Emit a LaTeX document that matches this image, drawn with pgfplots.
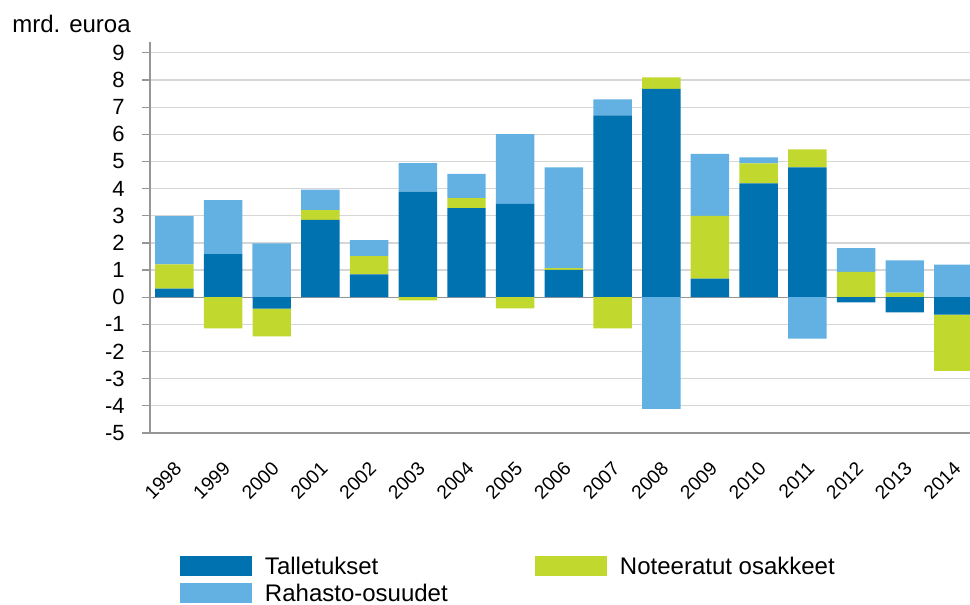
\documentclass[border=0pt]{standalone}
\usepackage{pgfplots}
\pgfplotsset{compat=1.18}
\usepackage{pgfplotstable}
\usepackage{fontspec}
\setmainfont{Liberation Sans}
\definecolor{dblue}{RGB}{0,114,176}
\definecolor{lblue}{RGB}{99,176,227}
\definecolor{lgreen}{RGB}{193,216,47}
\definecolor{axgray}{RGB}{150,150,150}
\definecolor{grgray}{RGB}{214,214,214}

% positive parts (Tp, Np, Rp) and negative parts (Tn, Nn, Rn), bn. euro
\pgfplotstableread{
x Tp Np Rp Tn Nn Rn
0 0.32 0.89 1.78 0 0 0
1 1.59 0 1.99 0 -1.15 0
2 0 0 1.98 -0.42 -1.02 0
3 2.85 0.36 0.75 0 0 0
4 0.84 0.67 0.59 0 0 0
5 3.89 0 1.05 0 -0.12 0
6 3.28 0.37 0.89 0 0 0
7 3.44 0 2.57 0 -0.41 0
8 1.01 0.06 3.71 0 0 0
9 6.70 0 0.59 0 -1.15 0
10 7.67 0.43 0 0 0 -4.11
11 0.69 2.31 2.28 0 0 0
12 4.19 0.74 0.22 0 0 0
13 4.78 0.67 0 0 0 -1.52
14 0 0.93 0.88 -0.19 0 0
15 0 0.17 1.19 -0.56 0 0
16 0 0 1.20 -0.64 -2.07 0
}\data

\pgfplotsset{base/.style={
  scale only axis, width=410pt, height=195.5pt,
  xmin=-0.5, xmax=16.34, ymin=-5, ymax=9.4,
  ybar stacked, bar width=0.79,
  at={(0,0)}, anchor=south west}}

\begin{document}
\begin{tikzpicture}
\useasboundingbox (-75pt,-86pt) rectangle (410pt,216.5pt);
\begin{axis}[base,
  axis x line=bottom, axis y line=left,
  axis line style={draw=axgray, line width=0.6pt, -},
  xtick={0,...,16},
  xticklabels={1998,1999,2000,2001,2002,2003,2004,2005,2006,2007,2008,2009,2010,2011,2012,2013,2014},
  xtick style={draw=none},
  xticklabel style={font=\fontsize{9.6}{11}\selectfont, inner sep=0pt, xshift=2pt, yshift=-12pt, rotate=45, anchor=east},
  ytick={-5,...,9},
  yticklabels={-5,-4,-3,-2,-1,0,1,2,3,4,5,6,7,8,9},
  tick align=outside, major tick length=4pt,
  ytick style={draw=axgray, line width=0.6pt},
  yticklabel style={font=\fontsize{11}{13}\selectfont, inner sep=0pt, xshift=-8.5pt, anchor=east},
  ymajorgrids, grid style={draw=grgray, line width=0.6pt},
  extra y ticks={0}, extra y tick labels={},
  extra y tick style={grid style={draw=axgray, line width=0.6pt}},
  legend columns=2, legend cell align=left,
  legend style={at={(0,0)}, anchor=north west, xshift=15pt, yshift=-61.5pt,
    draw=none, fill=none, inner sep=0pt, outer sep=0pt,
    font=\fontsize{12}{14}\selectfont, row sep=3.5pt,
    nodes={inner sep=0pt, text height=8.6pt, text depth=0pt},
    /tikz/every odd column/.style={column sep=6.5pt}},
]
\addplot[fill=dblue, draw=none, legend image code/.code={\fill[dblue] (0pt,-5pt) rectangle (36pt,5pt);}] table[x=x,y=Tp]{\data};
\addlegendentry{\makebox[135pt][l]{Talletukset}}
\addplot[fill=lgreen, draw=none, legend image code/.code={\fill[lgreen] (0pt,-5pt) rectangle (36pt,5pt);}] table[x=x,y=Np]{\data};
\addlegendentry{Noteeratut osakkeet}
\addplot[fill=lblue, draw=none, legend image code/.code={\fill[lblue] (0pt,-5pt) rectangle (36pt,5pt);}] table[x=x,y=Rp]{\data};
\addlegendentry{\makebox[135pt][l]{Rahasto-osuudet}}
\end{axis}
\begin{axis}[base, hide axis]
\addplot[fill=dblue, draw=none] table[x=x,y=Tn]{\data};
\addplot[fill=lgreen, draw=none] table[x=x,y=Nn]{\data};
\addplot[fill=lblue, draw=none] table[x=x,y=Rn]{\data};
\end{axis}
\node[anchor=base west, inner sep=0pt, font=\fontsize{12}{14}\selectfont] at (-69pt,200pt) {mrd. euroa};
\end{tikzpicture}
\end{document}
